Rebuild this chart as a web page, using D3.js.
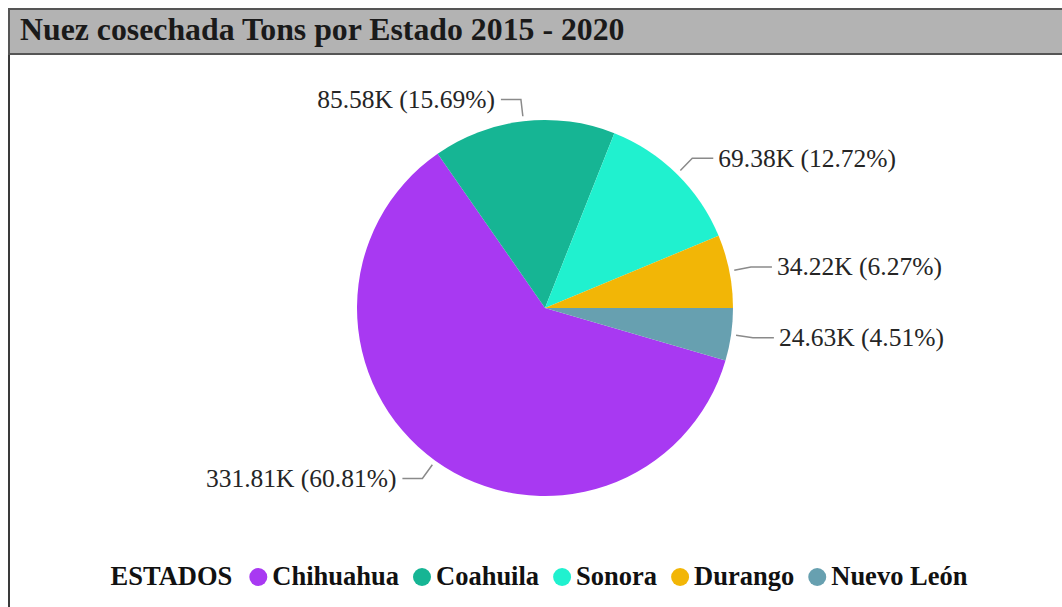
<!DOCTYPE html>
<html>
<head>
<meta charset="utf-8">
<script src="https://cdn.jsdelivr.net/npm/d3@7"></script>
<style>
  html, body { margin: 0; padding: 0; background: #fff; overflow: hidden; }
  svg { display: block; font-family: "Liberation Serif", "Times New Roman", serif; }
</style>
</head>
<body>
<div id="chart"></div>
<script>
const estados = ["Chihuahua", "Coahuila", "Sonora", "Durango", "Nuevo León"];
const toneladas = [331.81, 85.58, 69.38, 34.22, 24.63];
const etiquetas = ["331.81K (60.81%)", "85.58K (15.69%)", "69.38K (12.72%)", "34.22K (6.27%)", "24.63K (4.51%)"];
const colores = ["#a839f2", "#16b594", "#20f1cf", "#f2b606", "#67a0b0"];

const width = 1062;
const height = 607;
const cx = 545;
const cy = 308;
const radius = 188;

const svg = d3
  .select("#chart")
  .append("svg")
  .attr("width", width)
  .attr("height", height);

// panel + title bar
svg
  .append("rect")
  .attr("x", 9)
  .attr("y", 54)
  .attr("width", width + 20)
  .attr("height", 600)
  .attr("fill", "#fff")
  .attr("stroke", "#3a3a3a")
  .attr("stroke-width", 2);

svg
  .append("rect")
  .attr("x", 9)
  .attr("y", 9)
  .attr("width", width + 20)
  .attr("height", 45)
  .attr("fill", "#b3b3b3")
  .attr("stroke", "#555")
  .attr("stroke-width", 2);

svg
  .append("text")
  .attr("x", 20)
  .attr("y", 40)
  .attr("font-size", "31.8px")
  .attr("font-weight", "bold")
  .attr("fill", "#1a1a1a")
  .text("Nuez cosechada Tons por Estado 2015 - 2020");

const total = d3.sum(toneladas);
const offset = (toneladas[4] / total) * 2 * Math.PI + Math.PI / 2;

const pie = d3
  .pie()
  .sort(null)
  .startAngle(offset)
  .endAngle(offset + 2 * Math.PI);

const arcs = pie(toneladas);
const arc = d3.arc().innerRadius(0).outerRadius(radius);

const g = svg.append("g").attr("transform", `translate(${cx}, ${cy})`);

g.selectAll("path")
  .data(arcs)
  .enter()
  .append("path")
  .attr("d", arc)
  .attr("fill", (d, i) => colores[i]);

const pointAt = (a, r) => [Math.sin(a) * r, -Math.cos(a) * r];

arcs.forEach((d, i) => {
  const mid = (d.startAngle + d.endAngle) / 2;
  const right = Math.sin(mid) > 0;
  const p1 = pointAt(mid, radius + 5);
  const p2 = pointAt(mid, radius + 22);
  const p3 = [p2[0] + (right ? 21 : -20), p2[1]];

  g.append("polyline")
    .attr("points", [p1, p2, p3].map((p) => p.join(",")).join(" "))
    .attr("fill", "none")
    .attr("stroke", "#8a8a8a")
    .attr("stroke-width", 1.5);

  g.append("text")
    .attr("x", p3[0] + (right ? 5 : -6))
    .attr("y", p2[1])
    .attr("dy", "0.33em")
    .attr("text-anchor", right ? "start" : "end")
    .attr("font-size", "25.5px")
    .attr("fill", "#252525")
    .text(etiquetas[i]);
});

// legend
const legend = svg.append("g").attr("transform", "translate(0, 577)");
const legendFont = "26.5px";

const titulo = legend
  .append("text")
  .attr("y", 0)
  .attr("dy", "0.32em")
  .attr("font-size", legendFont)
  .attr("font-weight", "bold")
  .attr("fill", "#111")
  .text("ESTADOS");

let x = titulo.node().getComputedTextLength() + 26;
estados.forEach((nombre, i) => {
  legend
    .append("circle")
    .attr("cx", x)
    .attr("cy", 0)
    .attr("r", 9)
    .attr("fill", colores[i]);
  const t = legend
    .append("text")
    .attr("x", x + 14)
    .attr("dy", "0.32em")
    .attr("font-size", legendFont)
    .attr("font-weight", "bold")
    .attr("fill", "#111")
    .text(nombre);
  x += 14 + t.node().getComputedTextLength() + 23;
});

const legendWidth = x - 23;
legend.attr("transform", `translate(${539 - legendWidth / 2}, 577)`);
</script>
</body>
</html>
